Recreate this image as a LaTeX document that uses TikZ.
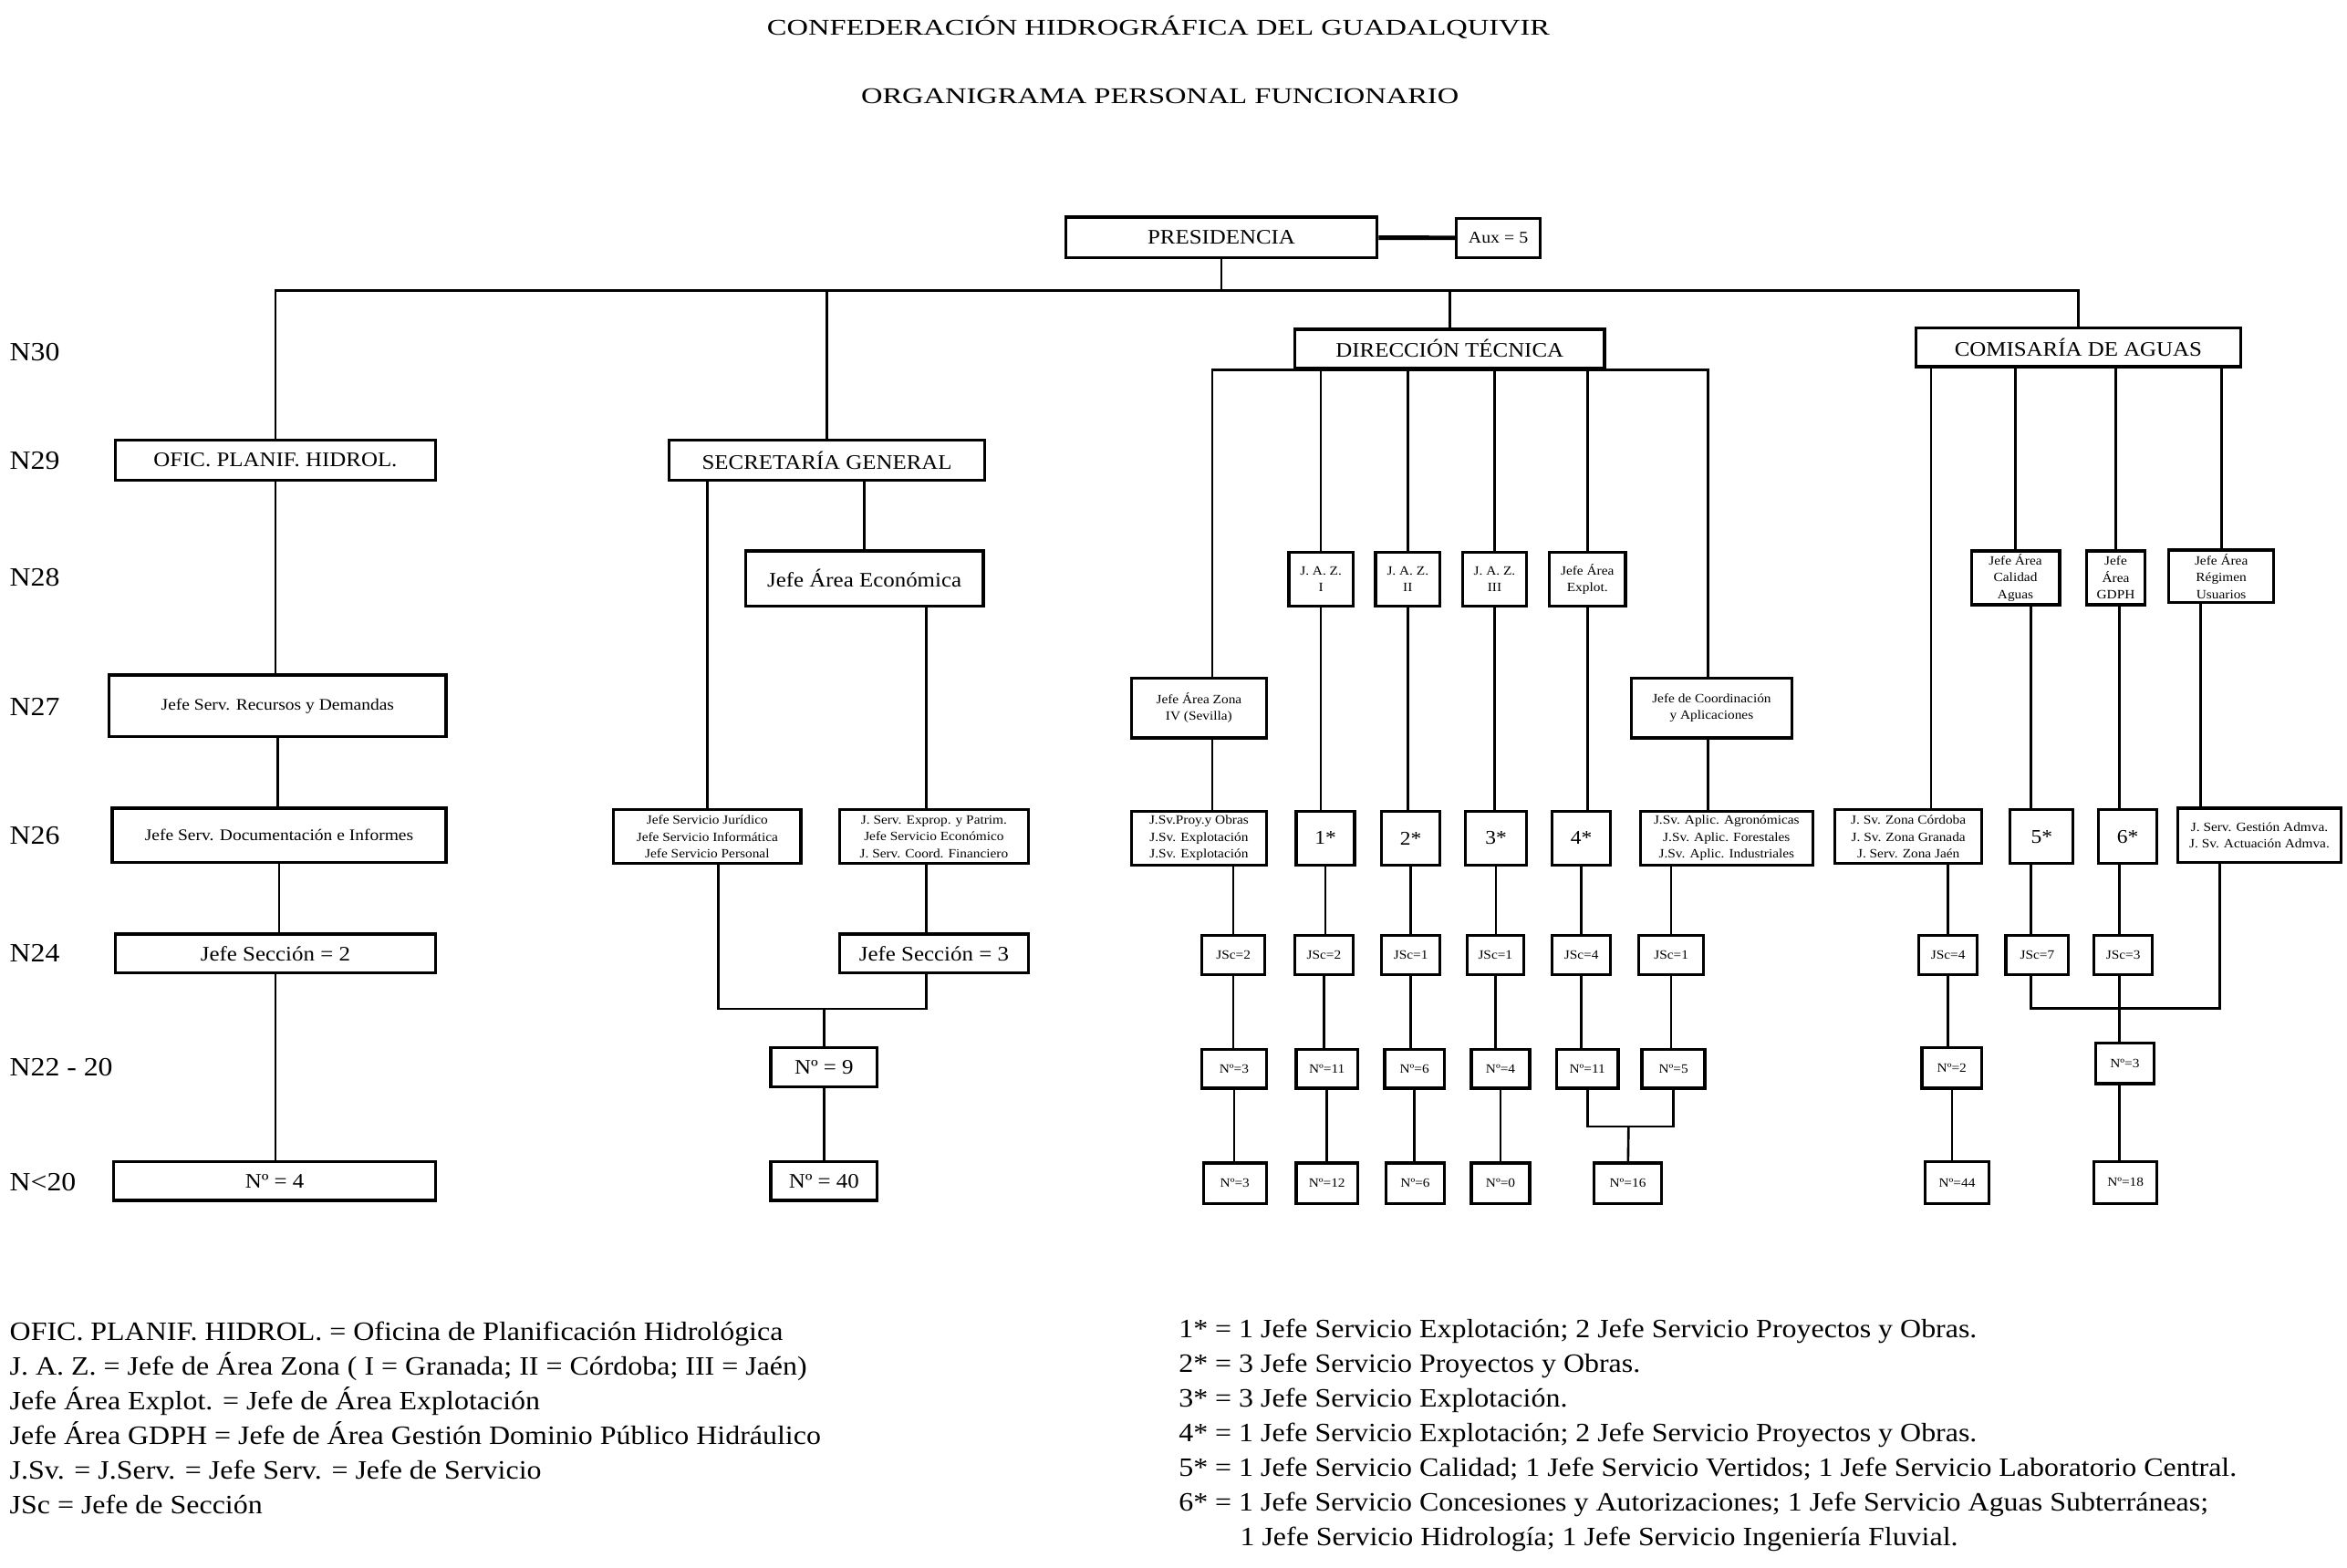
\documentclass[tikz,border=0pt]{standalone}
\usepackage{fontspec}
\setmainfont{Liberation Serif}[FakeStretch=1.1]

\newcommand\ftitle{\fontsize{15}{18}\selectfont}
\newcommand\fhead{\fontsize{13.8}{16}\selectfont}
\newcommand\fmid{\fontsize{10.8}{13}\selectfont}
\newcommand\fsmall{\fontsize{11}{13}\selectfont}
\newcommand\ftiny{\fontsize{8.5}{11.2}\selectfont}
\newcommand\fstar{\fontsize{13}{15}\selectfont}
\newcommand\flevel{\fontsize{17.6}{21}\selectfont}
\newcommand\flegend{\fontsize{17.7}{23.2}\selectfont}

\tikzset{
  box/.style={draw, line width=2pt, inner sep=1pt, align=center, font=\fhead},
  sbox/.style={box, font=\ftiny},
  bw/.style={minimum width=#1pt},
  bh/.style={minimum height=#1pt},
  link/.style={line width=1.6pt},
}

\begin{document}
\begin{tikzpicture}[x=1pt, y=-1pt]
\useasboundingbox (0,0) rectangle (1568,1047);

% titles
\node[font=\ftitle] (title1) at (774,18.5) {\scalebox{1.2}[1]{CONFEDERACIÓN HIDROGRÁFICA DEL GUADALQUIVIR}};
\node[font=\ftitle] (title2) at (775,64) {\scalebox{1.2}[1]{ORGANIGRAMA PERSONAL FUNCIONARIO}};

% levels
\foreach \t/\y in {N30/235,N29/308,N28/386,N27/472,N26/558,N24/637,N22 - 20/713,N<20/790}
  \node[anchor=west, font=\flevel] (lv\y) at (3,\y) {\t};

% top
\node[box, bw=208, bh=27] (pres) at (816,158.5) {PRESIDENCIA};
\node[box, bw=56, bh=26, font=\fsmall] (aux) at (1001,159) {Aux = 5};
\draw[line width=3pt] (pres) -- (aux);
\node[box, bw=207, bh=26] (dir) at (968.5,233) {DIRECCIÓN TÉCNICA};
\node[box, bw=217, bh=26] (com) at (1388.5,232) {COMISARÍA DE AGUAS};
\node[box, bw=214, bh=27] (ofic) at (184,307.5) {OFIC. PLANIF. HIDROL.};
\node[box, bw=211, bh=27] (sec) at (552.5,307.5) {SECRETARÍA GENERAL};
\coordinate (bus) at (816,194);
\draw[link] (pres) -- (bus);
\draw[link] (ofic) |- (bus) -| (com);
\draw[link] (sec) -- (sec |- bus);
\draw[link] (dir) -- (dir |- bus);

% oficina de planificacion
\node[box, bw=225, bh=41, font=\fmid] (recur) at (185.5,471.5) {Jefe Serv. Recursos y Demandas};
\node[box, bw=223, bh=36, font=\fmid] (docu) at (186.5,558) {Jefe Serv. Documentación e Informes};
\node[box, bw=214, bh=26] (js2) at (184,637) {Jefe Sección = 2};
\node[box, bw=215, bh=26] (n4) at (183.5,789) {Nº = 4};
\draw[link] (ofic) -- (ofic |- recur.north);
\draw[link] (recur) -- (recur |- docu.north);
\draw[link] (docu) -- (docu |- js2.north);
\draw[link] (js2) -- (js2 |- n4.north);

% secretaria general
\node[box, bw=159, bh=37] (jae) at (577.5,386.5) {Jefe Área Económica};
\node[sbox, bw=125, bh=36] (jur) at (472.5,559) {Jefe Servicio Jurídico\\Jefe Servicio Informática\\Jefe Servicio Personal};
\node[sbox, bw=126, bh=36] (expr) at (624,559) {J. Serv. Exprop. y Patrim.\\Jefe Servicio Económico\\J. Serv. Coord. Financiero};
\node[box, bw=126, bh=26] (js3) at (624,637) {Jefe Sección = 3};
\node[box, bw=71, bh=26] (n9) at (550.5,713) {Nº = 9};
\node[box, bw=71, bh=26] (n40) at (550.5,789) {Nº = 40};
\coordinate (xs) at (619,0);
\coordinate (xj) at (480,0);
\coordinate (sj) at (550.5,674);
\draw[link] (sec.south -| jur) -- (jur);
\draw[link] (sec.south -| jae) -- (jae);
\draw[link] (jae.south -| xs) -- (expr.north -| xs);
\draw[link] (expr.south -| xs) -- (js3.north -| xs);
\draw[link] (jur.south -| xj) |- (sj) -| (js3.south -| xs);
\draw[link] (sj) -- (n9);
\draw[link] (n9) -- (n40);

% direccion tecnica
\node[sbox, bw=90, bh=40] (zona4) at (801,473) {Jefe Área Zona\\IV (Sevilla)};
\node[sbox, bw=43, bh=36] (jaz1) at (882.5,387) {J. A. Z.\\I};
\node[sbox, bw=43, bh=36] (jaz2) at (940.5,387) {J. A. Z.\\II};
\node[sbox, bw=43, bh=36] (jaz3) at (998.5,387) {J. A. Z.\\III};
\node[sbox, bw=51, bh=36] (jaex) at (1060.5,387) {Jefe Área\\Explot.};
\node[sbox, bw=107, bh=40] (coord) at (1143.5,473) {Jefe de Coordinación\\y Aplicaciones};
\node[sbox, bw=90, bh=36] (proy) at (801,560) {J.Sv.Proy.y Obras\\J.Sv. Explotación\\J.Sv. Explotación};
\node[box, bw=39, bh=36, font=\fstar] (s1) at (885.5,560) {1*};
\node[box, bw=39, bh=36, font=\fstar] (s2) at (942.5,560) {2*};
\node[box, bw=41, bh=36, font=\fstar] (s3) at (999.5,560) {3*};
\node[box, bw=39, bh=36, font=\fstar] (s4) at (1056.5,560) {4*};
\node[sbox, bw=115, bh=36] (apl) at (1153.5,560) {J.Sv. Aplic. Agronómicas\\J.Sv. Aplic. Forestales\\J.Sv. Aplic. Industriales};
\foreach \n/\x/\w/\t in {j1/824/42/JSc=2, j2/884.5/39/JSc=2, j3/942.5/39/JSc=1, j4/999/38/JSc=1, j5/1056.5/39/JSc=4, j6/1116.5/43/JSc=1}
  \node[sbox, bw=\w, bh=26] (\n) at (\x,638) {\t};
\foreach \n/\x/\w/\t in {m1/824.5/43/Nº=3, m2/886.5/41/Nº=11, m3/945/40/Nº=6, m4/1002.5/39/Nº=4, m5/1060.5/41/Nº=11, m6/1118/42/Nº=5}
  \node[sbox, bw=\w, bh=26] (\n) at (\x,714) {\t};
\foreach \n/\x/\w/\t in {l1/825/42/Nº=3, l2/886.5/41/Nº=12, l3/945.5/39/Nº=6, l4/1002.5/39/Nº=0, l56/1087.5/45/Nº=16}
  \node[sbox, bw=\w, bh=27] (\n) at (\x,790.5) {\t};
\coordinate (da) at (810,0);
\coordinate (db) at (1141,0);
\draw[link] (zona4.north -| da) |- (dir.south) -| (coord.north -| db);
\foreach \b in {jaz1,jaz2,jaz3,jaex}
  \draw[link] (dir.south -| \b) -- (\b);
\foreach \a/\b in {jaz1/s1,jaz2/s2,jaz3/s3,jaex/s4}
  \draw[link] (\a) -- (\a |- \b.north);
\draw[link] (zona4.south -| da) -- (proy.north -| da);
\draw[link] (coord.south -| db) -- (apl.north -| db);
\draw[link] (proy.south -| j1) -- (j1);
\foreach \a/\b in {s1/j2,s2/j3,s3/j4,s4/j5}
  \draw[link] (\a) -- (\a |- \b.north);
\draw[link] (apl.south -| j6) -- (j6);
\foreach \a/\b in {j1/m1,j2/m2,j3/m3,j4/m4,j5/m5,j6/m6,m1/l1,m2/l2,m3/l3,m4/l4}
  \draw[link] (\a) -- (\a |- \b.north);
\coordinate (dj) at (1088,752.5);
\draw[link] (m5) |- (dj) -| (m6);
\draw[link] (dj) -- (l56);

% comisaria de aguas
\node[sbox, bw=59, bh=36] (cal) at (1346.5,386) {Jefe Área\\Calidad\\Aguas};
\node[sbox, bw=39, bh=36] (gdph) at (1413.5,386) {Jefe\\Área\\GDPH};
\node[sbox, bw=70, bh=35] (reg) at (1484,385) {Jefe Área\\Régimen\\Usuarios};
\node[sbox, bw=98, bh=36] (cord) at (1275,559) {J. Sv. Zona Córdoba\\J. Sv. Zona Granada\\J. Serv. Zona Jaén};
\node[box, bw=42, bh=36, font=\fstar] (s5) at (1364,559) {5*};
\node[box, bw=39, bh=36, font=\fstar] (s6) at (1421.5,559) {6*};
\node[sbox, bw=109, bh=36] (gest) at (1509.5,558) {J. Serv. Gestión Admva.\\J. Sv. Actuación Admva.};
\node[sbox, bw=39, bh=26] (jc4) at (1301.5,638) {JSc=4};
\node[sbox, bw=42, bh=26] (jc7) at (1361,638) {JSc=7};
\node[sbox, bw=39, bh=26] (jc3) at (1418.5,638) {JSc=3};
\node[sbox, bw=40, bh=27] (n2) at (1304,713.5) {Nº=2};
\node[sbox, bw=39, bh=27] (n3) at (1419.5,710.5) {Nº=3};
\node[sbox, bw=43, bh=28] (n44) at (1307.5,790) {Nº=44};
\node[sbox, bw=42, bh=28] (n18) at (1420,790) {Nº=18};
\coordinate (ka) at (1290,0);
\coordinate (kb) at (1357,0);
\coordinate (kc) at (1416,0);
\coordinate (kd) at (1483,0);
\coordinate (ke) at (1470,0);
\draw[link] (com.south -| ka) -- (cord.north -| ka);
\draw[link] (com.south -| cal) -- (cal);
\draw[link] (com.south -| gdph) -- (gdph);
\draw[link] (com.south -| reg) -- (reg);
\draw[link] (cal.south -| kb) -- (s5.north -| kb);
\draw[link] (gdph.south -| kc) -- (s6.north -| kc);
\draw[link] (reg.south -| ke) -- (gest.north -| ke);
\draw[link] (cord.south -| jc4) -- (jc4);
\draw[link] (s5.south -| kb) -- (jc7.north -| kb);
\draw[link] (s6.south -| kc) -- (jc3.north -| kc);
\coordinate (kj) at (1416,673.5);
\draw[link] (jc7.south -| kb) |- (kj) -| (gest.south -| kd);
\draw[link] (jc3.south -| kc) -- (n3.north -| kc);
\draw[link] (jc4) -- (jc4 |- n2.north);
\draw[link] (n2) -- (n2 |- n44.north);
\draw[link] (n3.south -| kc) -- (n18.north -| kc);

% legend
\node[anchor=west, align=left, font=\flegend] (legl) at (3,947.3) {%
OFIC. PLANIF. HIDROL. = Oficina de Planificación Hidrológica\\
J. A. Z. = Jefe de Área Zona ( I = Granada; II = Córdoba; III = Jaén)\\
Jefe Área Explot. = Jefe de Área Explotación\\
Jefe Área GDPH = Jefe de Área Gestión Dominio Público Hidráulico\\
J.Sv. = J.Serv. = Jefe Serv. = Jefe de Servicio\\
JSc = Jefe de Sección};
\node[anchor=west, align=left, font=\flegend] (legr) at (784,959) {%
1* = 1 Jefe Servicio Explotación; 2 Jefe Servicio Proyectos y Obras.\\
2* = 3 Jefe Servicio Proyectos y Obras.\\
3* = 3 Jefe Servicio Explotación.\\
4* = 1 Jefe Servicio Explotación; 2 Jefe Servicio Proyectos y Obras.\\
5* = 1 Jefe Servicio Calidad; 1 Jefe Servicio Vertidos; 1 Jefe Servicio Laboratorio Central.\\
6* = 1 Jefe Servicio Concesiones y Autorizaciones; 1 Jefe Servicio Aguas Subterráneas;\\
\hspace*{41pt}1 Jefe Servicio Hidrología; 1 Jefe Servicio Ingeniería Fluvial.};
\end{tikzpicture}
\end{document}
